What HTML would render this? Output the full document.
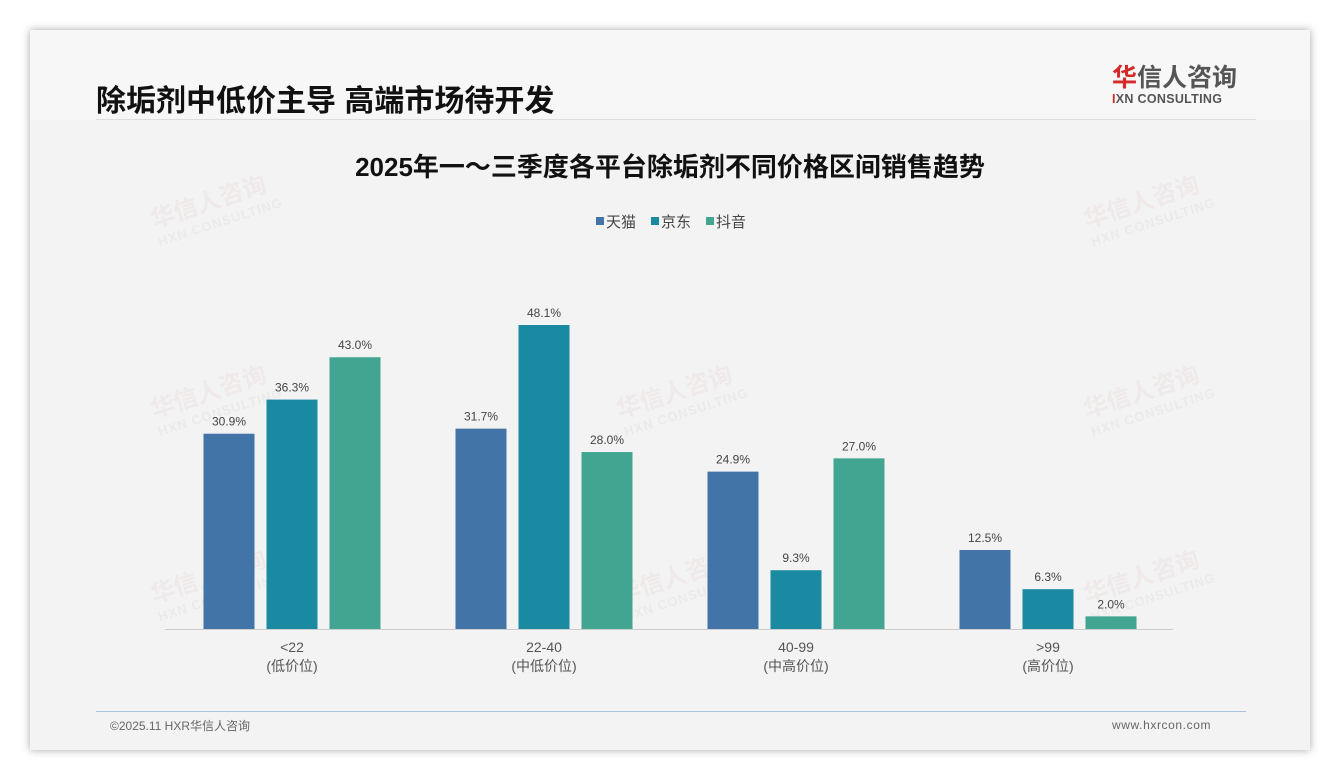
<!DOCTYPE html>
<html><head><meta charset="utf-8">
<style>
body{margin:0;width:1340px;height:780px;background:#fff;font-family:"Liberation Sans","Noto Sans CJK SC",sans-serif;overflow:hidden;position:relative}
#card{position:absolute;left:30px;top:30px;width:1280px;height:720px;background:#f3f3f3;box-shadow:0 0 8px rgba(0,0,0,.35)}
#head{position:absolute;left:0;top:0;width:1280px;height:90px;background:#f7f7f7}
.wm{position:absolute;transform:rotate(-18deg);color:rgba(220,150,150,.10);font-weight:bold;font-size:24px;line-height:22px;pointer-events:none}
.wm span{display:block;font-size:13px;color:rgba(170,170,170,.12);letter-spacing:1px}
</style></head><body>
<div id="card">
<div id="head"></div>
<div style="position:absolute;left:66px;top:46px;font-size:30px;font-weight:bold;color:#111">除垢剂中低价主导 高端市场待开发</div>
<div style="position:absolute;left:1082px;top:34px;width:130px">
<div style="font-size:25px;font-weight:bold;color:#555;line-height:28px"><span style="color:#d42a2a">华</span>信人咨询</div>
<div style="font-size:12.5px;font-weight:bold;color:#555;letter-spacing:.3px"><span style="color:#d42a2a">I</span>XN CONSULTING</div>
</div>
<div style="position:absolute;left:66px;top:89px;width:1160px;height:1px;background:#ddd"></div>
<div style="position:absolute;left:66px;top:681px;width:1150px;height:1px;background:#a9c4dc"></div>
<div style="position:absolute;left:80px;top:687px;font-size:12px;color:#666">©2025.11 HXR华信人咨询</div>
<div style="position:absolute;left:1082px;top:688px;font-size:12px;color:#666;letter-spacing:.6px">www.hxrcon.com</div>
</div>
<div class="wm" style="left:152px;top:190px">华信人咨询<span>HXN CONSULTING</span></div>
<div class="wm" style="left:1085px;top:190px">华信人咨询<span>HXN CONSULTING</span></div>
<div class="wm" style="left:152px;top:380px">华信人咨询<span>HXN CONSULTING</span></div>
<div class="wm" style="left:618px;top:380px">华信人咨询<span>HXN CONSULTING</span></div>
<div class="wm" style="left:1085px;top:380px">华信人咨询<span>HXN CONSULTING</span></div>
<div class="wm" style="left:152px;top:565px">华信人咨询<span>HXN CONSULTING</span></div>
<div class="wm" style="left:618px;top:565px">华信人咨询<span>HXN CONSULTING</span></div>
<div class="wm" style="left:1085px;top:565px">华信人咨询<span>HXN CONSULTING</span></div>
<svg id="chart" width="1340" height="780" style="position:absolute;left:0;top:0">
<text x="670" y="176" text-anchor="middle" font-size="26" font-weight="bold" fill="#111">2025年一～三季度各平台除垢剂不同价格区间销售趋势</text>
<line x1="165" y1="629.5" x2="1173" y2="629.5" stroke="#ccc"/>
</svg>
<script>
const categories=["<22","22-40","40-99",">99"];
const subLabels=["(低价位)","(中低价位)","(中高价位)","(高价位)"];
const seriesNames=["天猫","京东","抖音"];
const tmall=[30.9,31.7,24.9,12.5];
const jd=[36.3,48.1,9.3,6.3];
const douyin=[43.0,28.0,27.0,2.0];
const colors=["#4374a8","#1a8aa3","#41a592"];
const series=[tmall,jd,douyin];
const svg=document.getElementById('chart');
const NS='http://www.w3.org/2000/svg';
const base=629, ppu=6.32, barW=51, step=63;
function y(v){return base-v*ppu;}
function xc(i){return 292+i*252;}
function mk(t,a){const e=document.createElementNS(NS,t);for(const k in a)e.setAttribute(k,a[k]);svg.appendChild(e);return e;}
series.forEach((s,si)=>{s.forEach((v,i)=>{
 const x=xc(i)+(si-1)*step-barW/2;
 const r=mk('rect',{x:x,y:y(v),width:barW,height:v*ppu,fill:colors[si]});
 
 
 const t=mk('text',{x:x+barW/2,y:y(v)-8,'text-anchor':'middle','font-size':12,fill:'#444'});
 t.textContent=v.toFixed(1)+'%';
 
 
});});
categories.forEach((c,i)=>{
 const t=mk('text',{x:xc(i),y:652,'text-anchor':'middle','font-size':14,fill:'#555'});
 t.textContent=c;
 
 
 const t2=mk('text',{x:xc(i),y:671,'text-anchor':'middle','font-size':14,fill:'#555'});
 t2.textContent=subLabels[i];
 
 
});
const lx=[596,651,706];
seriesNames.forEach((n,i)=>{
 const r=mk('rect',{x:lx[i],y:217,width:8,height:8,fill:colors[i]});
 
 
 const t=mk('text',{x:lx[i]+10,y:227,'font-size':15,fill:'#444'});
 t.textContent=n;
 
 
});
</script>
</body></html>
